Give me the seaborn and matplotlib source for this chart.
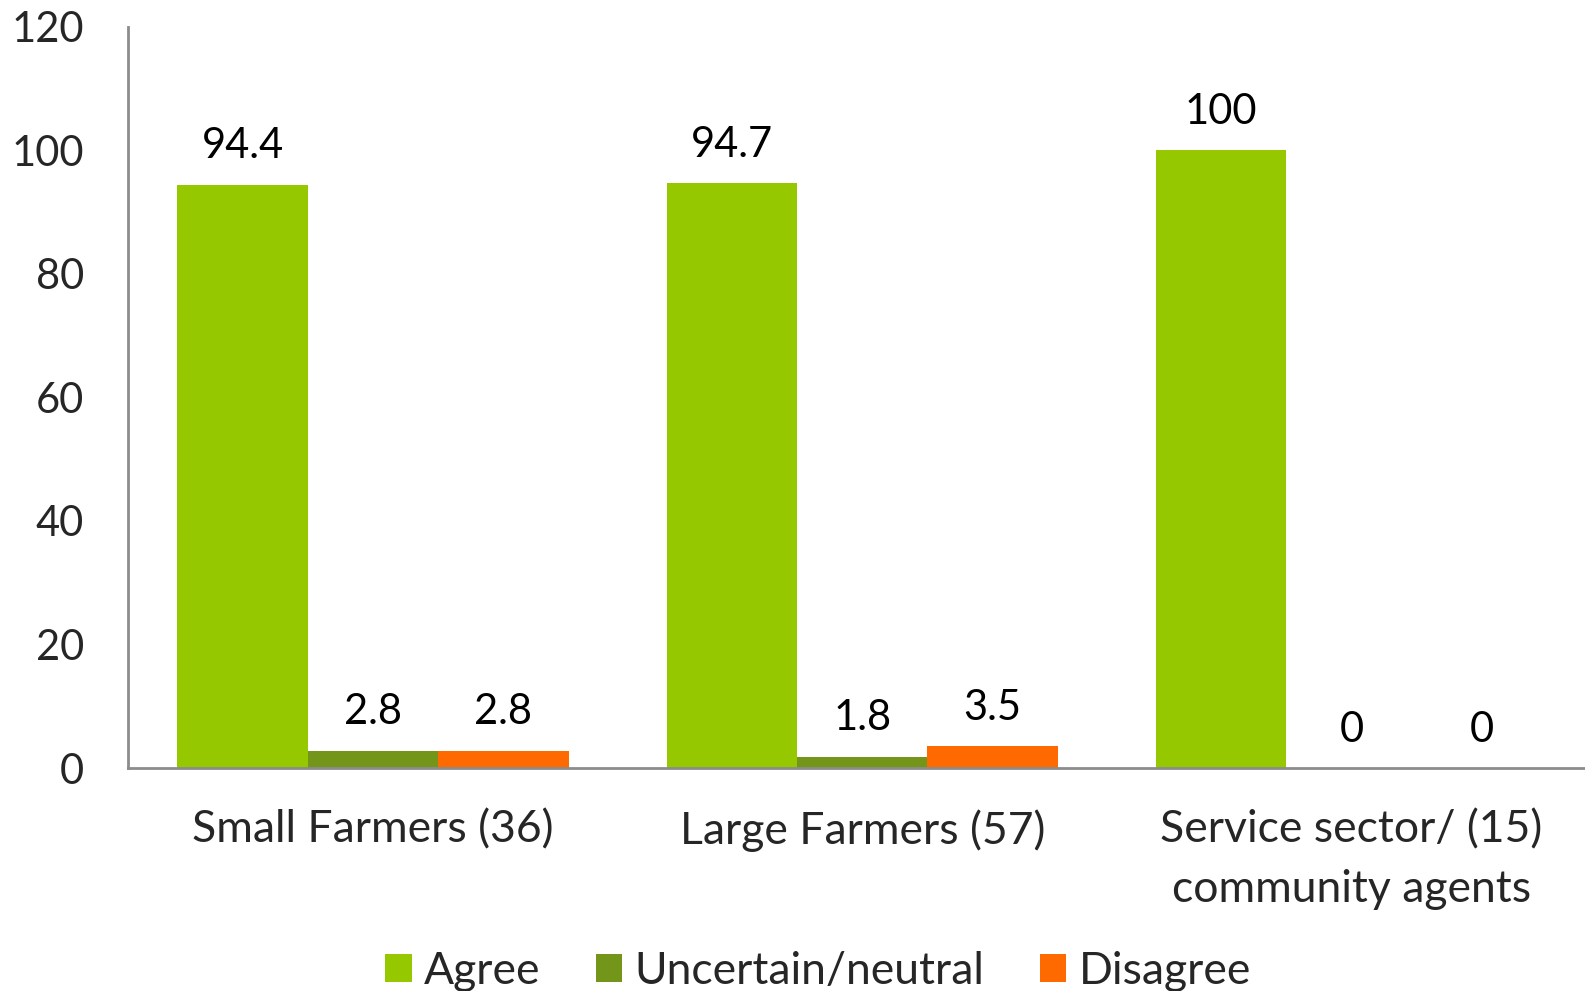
import matplotlib
matplotlib.use("Agg")
import matplotlib.pyplot as plt
import seaborn as sns
import pandas as pd
from matplotlib.patches import Patch

categories = ["Small Farmers (36)", "Large Farmers (57)", "Service sector/ (15)\ncommunity agents"]
series = ["Agree", "Uncertain/neutral", "Disagree"]
agree = [94.4, 94.7, 100]
uncertain = [2.8, 1.8, 0]
disagree = [2.8, 3.5, 0]
value_labels = [["94.4", "94.7", "100"], ["2.8", "1.8", "0"], ["2.8", "3.5", "0"]]
yticks = [0, 20, 40, 60, 80, 100, 120]
colors = ["#96C800", "#72951A", "#FF6A00"]

rows = []
for s, vals in zip(series, [agree, uncertain, disagree]):
    for c, v in zip(categories, vals):
        rows.append({"category": c, "series": s, "value": v})
df = pd.DataFrame(rows)

sns.set_style("white")
plt.rcParams["font.family"] = ["Lato", "DejaVu Sans"]

fig = plt.figure(figsize=(15.85, 9.91), dpi=100)
ax = fig.add_axes([0.081, 0.225, 0.926, 0.748])

sns.barplot(data=df, x="category", y="value", hue="series", order=categories,
            hue_order=series, palette=colors, width=0.8, saturation=1,
            ax=ax, legend=False, linewidth=0, edgecolor="none")

for cont, labs in zip(ax.containers, value_labels):
    ax.bar_label(cont, labels=labs, padding=14, fontsize=30, color="black")

ax.set_ylim(0, 120)
ax.set_xlim(-0.5, 2.5)
ax.set_yticks(yticks)
ax.set_yticklabels([str(t) for t in yticks])
ax.set_xlabel("")
ax.set_ylabel("")
ax.tick_params(axis="y", length=0, pad=32, labelsize=30)
ax.tick_params(axis="x", length=0, pad=30, labelsize=32)
for lab in ax.get_xticklabels():
    lab.set_linespacing(1.55)
for sp in ["top", "right"]:
    ax.spines[sp].set_visible(False)
for sp in ["left", "bottom"]:
    ax.spines[sp].set_color("#8C8C8C")
    ax.spines[sp].set_linewidth(2)
ax.spines["left"].set_bounds(0, 120)

handles = [Patch(facecolor=c, edgecolor="none") for c in colors]
fig.legend(handles, series, loc="center", bbox_to_anchor=(0.516, 0.02),
           ncol=3, frameon=False, fontsize=32, handlelength=0.6, handleheight=0.6,
           handletextpad=0.27, columnspacing=1.25)

fig.savefig("out.png", dpi=100, facecolor="white")
